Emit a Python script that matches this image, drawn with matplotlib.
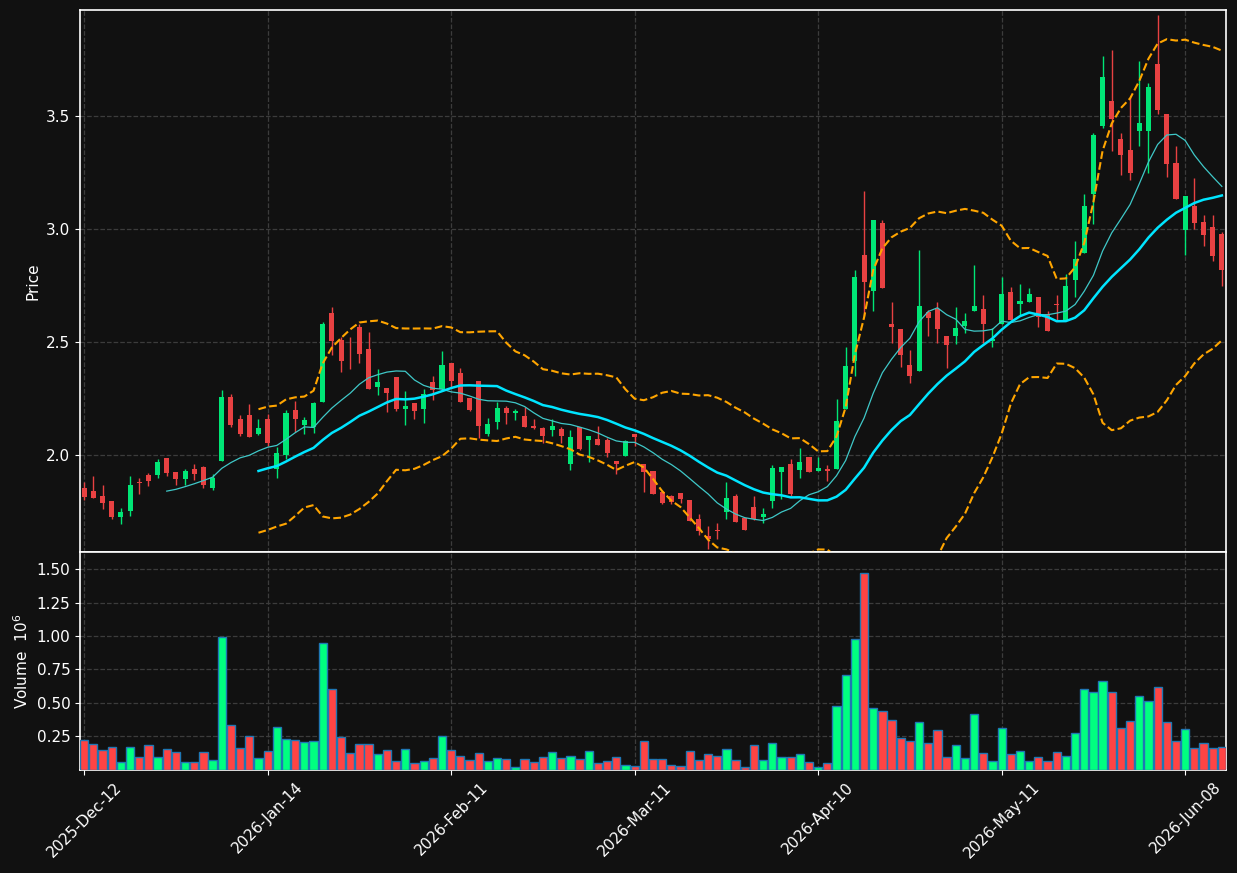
import numpy as np
import pandas as pd
import matplotlib
matplotlib.use("Agg")
import matplotlib.pyplot as plt

# daily OHLC (125 sessions)
opens = [1.855, 1.840, 1.818, 1.796, 1.727, 1.753, 1.882, 1.911, 1.913, 1.987,
         1.925, 1.895, 1.938, 1.947, 1.855, 1.975, 2.257, 2.160, 2.177, 2.093,
         2.160, 1.939, 1.999, 2.200, 2.133, 2.126, 2.237, 2.630, 2.510, 2.444,
         2.568, 2.470, 2.303, 2.297, 2.346, 2.205, 2.231, 2.205, 2.324, 2.291,
         2.408, 2.364, 2.253, 2.328, 2.095, 2.148, 2.208, 2.188, 2.173, 2.129,
         2.120, 2.112, 2.115, 1.962, 2.124, 2.068, 2.071, 2.067, 1.976, 1.997,
         2.092, 1.960, 1.929, 1.839, 1.818, 1.834, 1.800, 1.716, 1.641, 1.668,
         1.749, 1.818, 1.721, 1.769, 1.727, 1.797, 1.926, 1.960, 1.935, 1.991,
         1.932, 1.938, 1.939, 2.205, 2.418, 2.885, 2.724, 3.027, 2.581, 2.557,
         2.398, 2.370, 2.634, 2.647, 2.528, 2.525, 2.569, 2.636, 2.646, 2.503,
         2.578, 2.723, 2.668, 2.676, 2.699, 2.622, 2.668, 2.599, 2.776, 2.893,
         3.154, 3.456, 3.564, 3.397, 3.348, 3.432, 3.432, 3.729, 3.508, 3.290,
         2.995, 3.100, 3.029, 3.011, 2.980]
highs = [1.882, 1.910, 1.870, 1.796, 1.768, 1.910, 1.897, 1.923, 1.985, 1.987,
         1.925, 1.938, 1.959, 1.954, 1.919, 2.287, 2.272, 2.176, 2.226, 2.160,
         2.182, 2.034, 2.198, 2.238, 2.167, 2.234, 2.590, 2.655, 2.522, 2.522,
         2.578, 2.544, 2.381, 2.297, 2.346, 2.282, 2.231, 2.291, 2.350, 2.461,
         2.408, 2.386, 2.253, 2.328, 2.163, 2.234, 2.217, 2.205, 2.211, 2.158,
         2.126, 2.161, 2.123, 2.111, 2.124, 2.087, 2.127, 2.074, 1.976, 2.069,
         2.092, 1.960, 1.929, 1.839, 1.826, 1.834, 1.800, 1.738, 1.688, 1.698,
         1.880, 1.830, 1.721, 1.818, 1.768, 1.956, 1.947, 1.981, 2.030, 1.991,
         1.991, 1.957, 2.247, 2.480, 2.817, 3.169, 3.041, 3.038, 2.676, 2.557,
         2.464, 2.908, 2.643, 2.677, 2.528, 2.655, 2.628, 2.841, 2.708, 2.562,
         2.789, 2.744, 2.757, 2.738, 2.699, 2.636, 2.707, 2.801, 2.946, 3.156,
         3.426, 3.764, 3.790, 3.426, 3.582, 3.744, 3.644, 3.944, 3.508, 3.369,
         3.144, 3.227, 3.064, 3.064, 2.986]
lows = [1.803, 1.811, 1.763, 1.718, 1.697, 1.732, 1.830, 1.865, 1.901, 1.910,
        1.870, 1.867, 1.892, 1.857, 1.846, 1.975, 2.123, 2.086, 2.081, 2.089,
        2.041, 1.897, 1.981, 2.103, 2.092, 2.096, 2.237, 2.442, 2.367, 2.380,
        2.409, 2.294, 2.268, 2.192, 2.197, 2.135, 2.161, 2.143, 2.245, 2.291,
        2.303, 2.237, 2.197, 2.074, 2.084, 2.114, 2.136, 2.155, 2.126, 2.115,
        2.056, 2.083, 2.052, 1.936, 2.025, 1.972, 2.046, 1.991, 1.919, 1.997,
        2.041, 1.837, 1.829, 1.783, 1.786, 1.790, 1.709, 1.647, 1.585, 1.630,
        1.719, 1.704, 1.669, 1.712, 1.700, 1.768, 1.808, 1.820, 1.901, 1.926,
        1.932, 1.888, 1.939, 2.205, 2.352, 2.616, 2.637, 2.738, 2.498, 2.392,
        2.318, 2.370, 2.525, 2.498, 2.384, 2.491, 2.538, 2.636, 2.498, 2.477,
        2.578, 2.596, 2.621, 2.676, 2.566, 2.551, 2.599, 2.599, 2.698, 2.893,
        3.023, 3.446, 3.345, 3.239, 3.217, 3.367, 3.248, 3.508, 3.231, 3.132,
        2.885, 3.001, 2.925, 2.857, 2.748]
closes = [1.815, 1.811, 1.789, 1.727, 1.747, 1.867, 1.878, 1.886, 1.969, 1.922,
          1.895, 1.929, 1.917, 1.868, 1.898, 2.257, 2.133, 2.095, 2.081, 2.120,
          2.053, 2.010, 2.186, 2.161, 2.155, 2.231, 2.581, 2.507, 2.417, 2.441,
          2.448, 2.294, 2.324, 2.276, 2.204, 2.217, 2.197, 2.269, 2.290, 2.399,
          2.330, 2.237, 2.200, 2.130, 2.137, 2.208, 2.188, 2.197, 2.126, 2.121,
          2.084, 2.127, 2.086, 2.080, 2.028, 2.087, 2.046, 2.010, 1.962, 2.061,
          2.081, 1.926, 1.829, 1.789, 1.795, 1.805, 1.709, 1.664, 1.629, 1.665,
          1.809, 1.704, 1.669, 1.719, 1.738, 1.942, 1.947, 1.827, 1.969, 1.926,
          1.942, 1.932, 2.151, 2.395, 2.789, 2.764, 3.041, 2.738, 2.565, 2.445,
          2.352, 2.659, 2.605, 2.559, 2.485, 2.562, 2.593, 2.659, 2.578, 2.513,
          2.714, 2.596, 2.680, 2.712, 2.613, 2.551, 2.665, 2.749, 2.869, 3.100,
          3.415, 3.672, 3.486, 3.327, 3.248, 3.468, 3.626, 3.526, 3.288, 3.132,
          3.144, 3.026, 2.973, 2.880, 2.820]
# volume in millions
volumes = [0.223, 0.193, 0.151, 0.173, 0.061, 0.173, 0.099, 0.188, 0.099, 0.158,
           0.136, 0.061, 0.061, 0.136, 0.076, 0.991, 0.337, 0.166, 0.255, 0.091,
           0.143, 0.322, 0.233, 0.225, 0.210, 0.218, 0.947, 0.605, 0.248, 0.128,
           0.195, 0.195, 0.121, 0.151, 0.069, 0.158, 0.054, 0.069, 0.091, 0.255,
           0.151, 0.106, 0.076, 0.128, 0.069, 0.091, 0.084, 0.024, 0.084, 0.061,
           0.099, 0.136, 0.091, 0.106, 0.084, 0.143, 0.054, 0.069, 0.099, 0.039,
           0.032, 0.218, 0.084, 0.084, 0.039, 0.032, 0.143, 0.076, 0.121, 0.106,
           0.158, 0.076, 0.024, 0.188, 0.076, 0.203, 0.099, 0.099, 0.121, 0.061,
           0.024, 0.054, 0.478, 0.709, 0.977, 1.468, 0.461, 0.441, 0.374, 0.240,
           0.218, 0.359, 0.203, 0.300, 0.099, 0.188, 0.091, 0.419, 0.128, 0.069,
           0.315, 0.121, 0.143, 0.069, 0.099, 0.069, 0.136, 0.106, 0.277, 0.605,
           0.582, 0.664, 0.582, 0.315, 0.367, 0.553, 0.515, 0.620, 0.359, 0.218,
           0.307, 0.166, 0.203, 0.166, 0.173]
tick_labels = ["2025-Dec-12", "2026-Jan-14", "2026-Feb-11", "2026-Mar-11",
               "2026-Apr-10", "2026-May-11", "2026-Jun-08"]

df = pd.DataFrame({"Open": opens, "High": highs, "Low": lows,
                   "Close": closes, "Volume": volumes})
x = np.arange(len(df))
sma10 = df["Close"].rolling(10).mean()
sma20 = df["Close"].rolling(20).mean()
sd20 = df["Close"].rolling(20).std(ddof=0)
bb_up = sma20 + 2 * sd20
bb_lo = sma20 - 2 * sd20

up = df["Close"] >= df["Open"]
BG = "#111111"
c_up, c_dn = "#00e676", "#e84142"
v_up, v_dn = "#00ff80", "#ff4444"

fig = plt.figure(figsize=(12.37, 8.73), dpi=100, facecolor=BG)
ax = fig.add_axes([0.0647, 0.3677, 0.9264, 0.6208])
axv = fig.add_axes([0.0647, 0.1180, 0.9264, 0.2497], sharex=ax)

for a in (ax, axv):
    a.set_facecolor(BG)
    for s in a.spines.values():
        s.set_color("white")
        s.set_linewidth(1.2)
    a.tick_params(colors="white", labelsize=11)
    a.grid(True, linestyle="--", color="#3c3c3c", linewidth=0.9)
    a.set_axisbelow(True)

# candles
colors = np.where(up, c_up, c_dn)
ax.vlines(x, df["Low"], df["High"], colors=colors, linewidth=1.0, zorder=2)
body_lo = np.minimum(df["Open"], df["Close"])
body_h = np.maximum((df["Close"] - df["Open"]).abs(), 0.004)
ax.bar(x, body_h, bottom=body_lo, width=0.55, color=colors, linewidth=0, zorder=3)

# indicators
ax.plot(x, sma10, color="#3fc8c8", linewidth=0.9, zorder=4)
ax.plot(x, sma20, color="#00e5ff", linewidth=1.8, zorder=4)
ax.plot(x, bb_up, color="orange", linestyle="--", linewidth=1.5, zorder=4)
ax.plot(x, bb_lo, color="orange", linestyle="--", linewidth=1.5, zorder=4)

ax.set_ylim(1.572, 3.968)
ax.set_ylabel("Price", color="white", fontsize=11)
ax.set_yticks([2.0, 2.5, 3.0, 3.5])
ax.tick_params(axis="x", which="both", length=0, labelbottom=False)

# volume
vcolors = np.where(up, v_up, v_dn)
axv.bar(x, df["Volume"], width=0.9, color=vcolors, edgecolor="#1f77b4",
        linewidth=1.0, zorder=3)
axv.set_ylim(0, 1.627)
axv.set_yticks([0.25, 0.50, 0.75, 1.00, 1.25, 1.50])
axv.set_ylabel("Volume  $10^{6}$", color="white", fontsize=11)

axv.set_xlim(-0.45, len(df) - 0.55)
axv.set_xticks(x[::20])
axv.set_xticklabels(tick_labels, rotation=45, ha="center")

fig.savefig("out.png", dpi=100, facecolor=BG)
